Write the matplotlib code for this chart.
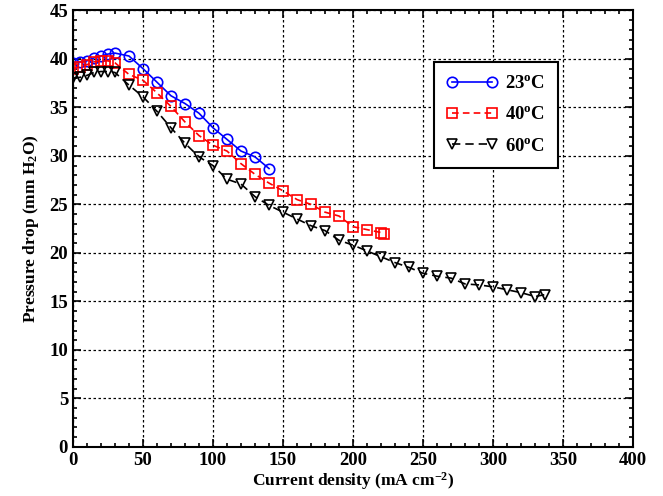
import matplotlib
matplotlib.use("Agg")
import matplotlib.pyplot as plt
from matplotlib.ticker import MultipleLocator

plt.rcParams['font.family'] = ['Liberation Serif', 'DejaVu Serif']
plt.rcParams['font.weight'] = 'bold'
plt.rcParams['mathtext.fontset'] = 'custom'
plt.rcParams['mathtext.rm'] = 'Liberation Serif:bold'
plt.rcParams['mathtext.bf'] = 'Liberation Serif:bold'
plt.rcParams['mathtext.it'] = 'Liberation Serif:bold'

# Data
x_23 = [0, 5, 10, 15, 20, 25, 30, 40, 50, 60, 70, 80, 90, 100, 110, 120, 130, 140]
y_23 = [39.6, 39.7, 39.8, 40.1, 40.3, 40.5, 40.6, 40.3, 39.0, 37.6, 36.2, 35.4,
        34.4, 32.9, 31.7, 30.5, 29.9, 28.7]

x_40 = [0, 5, 10, 15, 20, 25, 30, 40, 50, 60, 70, 80, 90, 100, 110, 120, 130,
        140, 150, 160, 170, 180, 190, 200, 210, 220, 222]
y_40 = [39.0, 39.2, 39.4, 39.7, 39.8, 39.8, 39.6, 38.4, 37.8, 36.5, 35.1, 33.5,
        32.1, 31.1, 30.5, 29.2, 28.1, 27.2, 26.4, 25.5, 25.0, 24.2, 23.8, 22.7,
        22.4, 22.1, 21.9]

x_60 = [0, 5, 10, 15, 20, 25, 30, 40, 50, 60, 70, 80, 90, 100, 110, 120, 130,
        140, 150, 160, 170, 180, 190, 200, 210, 220, 230, 240, 250, 260, 270,
        280, 290, 300, 310, 320, 330, 337]
y_60 = [38.0, 38.1, 38.3, 38.6, 38.7, 38.7, 38.6, 37.3, 36.1, 34.6, 32.9, 31.3,
        29.9, 29.0, 27.6, 27.1, 25.8, 24.9, 24.2, 23.5, 22.8, 22.3, 21.3, 20.8,
        20.2, 19.6, 19.0, 18.5, 17.9, 17.6, 17.4, 16.8, 16.7, 16.5, 16.2, 15.9,
        15.5, 15.7]

fig = plt.figure(figsize=(6.63, 4.96), dpi=100)
ax = fig.add_axes([0.110, 0.099, 0.845, 0.880])

ax.plot(x_23, y_23, color='#0000ff', linestyle='-', linewidth=1.2,
        marker='o', markersize=7.5, markerfacecolor='none', markeredgewidth=1.2,
        label=r'23$^{\mathrm{o}}$C')
ax.plot(x_40, y_40, color='#ff0000', linestyle=(0, (4, 2.5)), linewidth=1.2,
        marker='s', markersize=7.5, markerfacecolor='none', markeredgewidth=1.2,
        label=r'40$^{\mathrm{o}}$C')
ax.plot(x_60, y_60, color='black', linestyle=(0, (5, 3)), linewidth=1.2,
        marker='v', markersize=7.5, markerfacecolor='none', markeredgewidth=1.2,
        label=r'60$^{\mathrm{o}}$C')

ax.set_xlim(0, 400)
ax.set_ylim(0, 45)
ax.xaxis.set_major_locator(MultipleLocator(50))
ax.xaxis.set_minor_locator(MultipleLocator(10))
ax.yaxis.set_major_locator(MultipleLocator(5))
ax.yaxis.set_minor_locator(MultipleLocator(1))
ax.tick_params(which='both', direction='in', top=True, right=True,
               labelsize=13.5, width=1.2)
ax.tick_params(which='major', length=6)
ax.tick_params(which='minor', length=3)
for lab in ax.get_xticklabels() + ax.get_yticklabels():
    lab.set_fontweight('bold')
for s in ax.spines.values():
    s.set_linewidth(1.5)

ax.grid(True, which='major', color='black', linestyle=(0, (2, 2)), linewidth=0.9)

ax.set_xlabel(r'Current density (mA cm$^{\mathrm{-2}}$)', fontsize=12.5,
              fontweight='bold', labelpad=1)
ax.set_ylabel(r'Pressure drop (mm H$_{\mathrm{2}}$O)', fontsize=12.5,
              fontweight='bold', labelpad=6)

leg = ax.legend(loc='upper right', bbox_to_anchor=(0.866, 0.882), numpoints=2,
                handlelength=2.7, fontsize=13.5, frameon=True, fancybox=False,
                borderpad=0.7, labelspacing=0.75, handletextpad=0.4,
                borderaxespad=0)
leg.get_frame().set_edgecolor('black')
leg.get_frame().set_linewidth(1.5)
leg.get_frame().set_alpha(1)
for t in leg.get_texts():
    t.set_fontweight('bold')

fig.savefig('out.png', dpi=100)
